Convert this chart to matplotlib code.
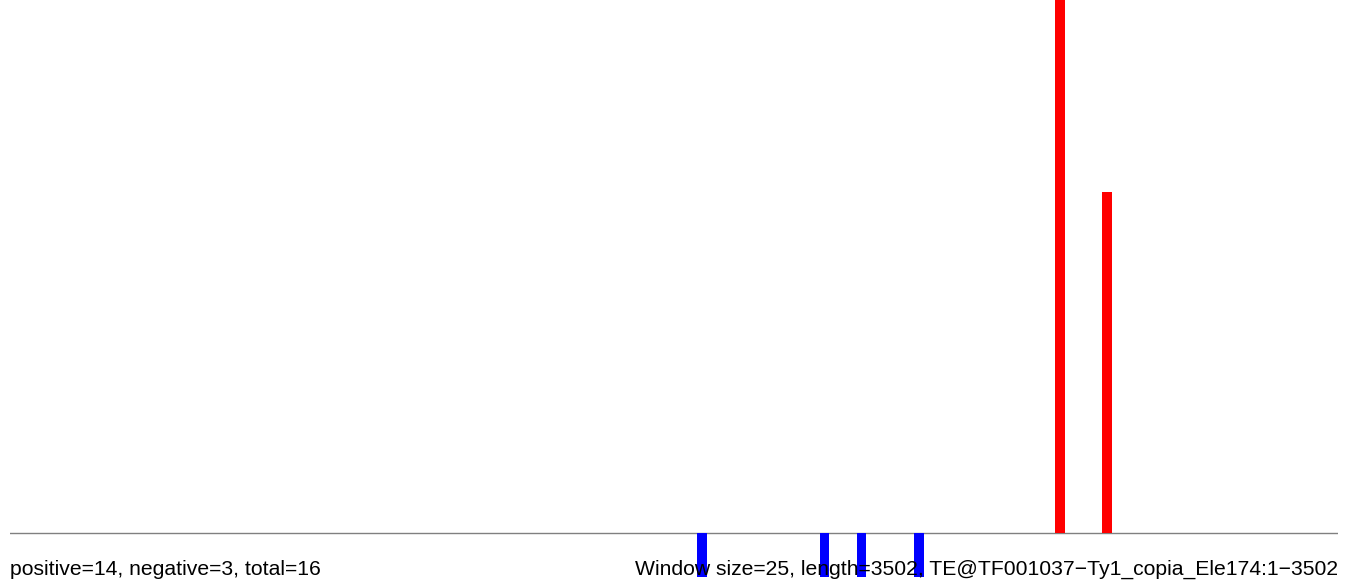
import matplotlib.pyplot as plt

# window start positions (bp) and counts
pos_starts = [2756, 2880]
pos_counts = [14, 8.95]
neg_starts = [1812, 2136, 2233, 2384]
neg_counts = [-1.15, -1.15, -1.15, -1.15]

window = 25
length = 3502
left_label = 'positive=14, negative=3, total=16'
right_label = 'Window size=25, length=3502, TE@TF001037\u2212Ty1_copia_Ele174:1\u22123502'

plt.rcParams['font.family'] = ['Liberation Sans', 'DejaVu Sans']

fig = plt.figure(figsize=(13.5, 5.83), dpi=100)
ax = fig.add_axes([10 / 1350, 6 / 583, 1328 / 1350, 577 / 583])

ax.bar(pos_starts, pos_counts, width=window, align='edge', color='red', zorder=3)
ax.bar(neg_starts, neg_counts, width=window, align='edge', color='blue', zorder=3)
ax.axhline(0, color='#808080', lw=1, zorder=2)

ax.set_xlim(0, length)
ax.set_ylim(-1.15, 14)
ax.axis('off')

fig.text(10 / 1350, 8 / 583, left_label, fontsize=15.2, va='baseline', ha='left', zorder=1)
fig.text(1338 / 1350, 8 / 583, right_label, fontsize=15.2, va='baseline', ha='right', zorder=1)

fig.savefig('out.png')
